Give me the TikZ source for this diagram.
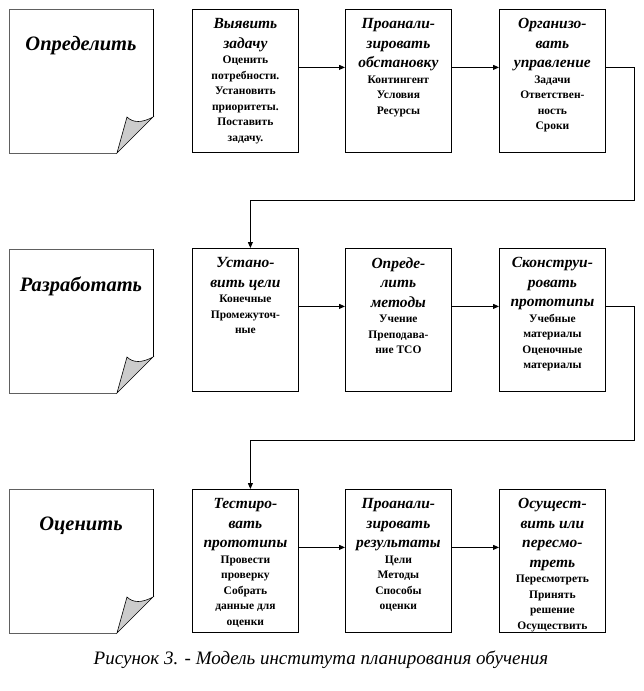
\documentclass[tikz,border=0pt]{standalone}
\usepackage{fontspec}
\setmainfont{Liberation Serif}
\usetikzlibrary{arrows.meta,calc}
\newcommand\hfnt{\fontsize{15.5}{19.5}\selectfont\bfseries\itshape}
\newcommand\bfnt{\fontsize{11.5}{15.5}\selectfont\bfseries}
\newcommand\boxnode[5]{\node[stagebox] (#1) at (#2,#3) {\parbox[t][143pt][t]{106pt}{\centering\vspace*{9pt}{\hfnt #4\par}{\bfnt #5\par}}};}
\tikzset{
  stagebox/.style={draw, line width=0.8pt, inner sep=0pt, anchor=north west},
  arr/.style={-{Triangle[length=6pt,width=5pt]}, line width=0.8pt},
  notetitle/.style={font=\fontsize{20.5}{22}\selectfont\bfseries\itshape, inner sep=0pt},
}
\begin{document}
\begin{tikzpicture}[x=1pt,y=-1pt]
\useasboundingbox (0,0) rectangle (643,691);
% notes
\foreach \yy/\tt/\nm in {9/Определить/n1, 249/Разработать/n2, 489/Оценить/n3}{
  \begin{scope}[shift={(0,\yy)}]
    \fill[white] (9,0)--(153,0)--(153,108)--(117,144)--(9,144)--cycle;
    \draw[gray!75!black, line width=1pt] (153,0)--(9,0)--(9,144)--(117,144);
    \draw[black, line width=0.8pt] (153,0)--(153,108);
    \draw[fill=gray!40, line width=0.6pt] (117,144) -- (127,108) .. controls (133,114) and (142,114) .. (153,108) -- cycle;
    \node[notetitle] (\nm) at (81,37) {\tt};
  \end{scope}
}
% row 1
\boxnode{b1}{192}{9}{Выявить\\задачу}{Оценить\\потребности.\\Установить\\приоритеты.\\Поставить\\задачу.}
\boxnode{b2}{345}{9}{Проанали-\\зировать\\обстановку}{Контингент\\Условия\\Ресурсы}
\boxnode{b3}{499}{9}{Организо-\\вать\\управление}{Задачи\\Ответствен-\\ность\\Сроки}
% row 2
\boxnode{b4}{192}{248}{Устано-\\вить цели}{Конечные\\Промежуточ-\\ные}
\boxnode{b5}{345}{248}{Опреде-\\лить\\методы}{Учение\\Преподава-\\ние ТСО}
\boxnode{b6}{499}{248}{Сконструи-\\ровать\\прототипы}{Учебные\\материалы\\Оценочные\\материалы}
% row 3
\boxnode{b7}{192}{489}{Тестиро-\\вать\\прототипы}{Провести\\проверку\\Собрать\\данные для\\оценки}
\boxnode{b8}{345}{489}{Проанали-\\зировать\\результаты}{Цели\\Методы\\Способы\\оценки}
\boxnode{b9}{499}{489}{Осущест-\\вить или\\пересмо-\\треть}{Пересмотреть\\Принять\\решение\\Осуществить}
% connectors
\coordinate (t1) at (634,200);
\coordinate (t2) at (634,440);
\draw[arr] ([yshift=13.5pt]b1.east) -- ([yshift=13.5pt]b2.west);
\draw[arr] ([yshift=13.5pt]b2.east) -- ([yshift=13.5pt]b3.west);
\draw[arr] ([yshift=13.5pt]b3.east) -| (t1) -| ([xshift=5pt]b4.north);
\draw[arr] ([yshift=13.5pt]b4.east) -- ([yshift=13.5pt]b5.west);
\draw[arr] ([yshift=13.5pt]b5.east) -- ([yshift=13.5pt]b6.west);
\draw[arr] ([yshift=13.5pt]b6.east) -| (t2) -| ([xshift=5pt]b7.north);
\draw[arr] ([yshift=13.5pt]b7.east) -- ([yshift=13.5pt]b8.west);
\draw[arr] ([yshift=13.5pt]b8.east) -- ([yshift=13.5pt]b9.west);
% caption
\node[font=\fontsize{19}{21}\selectfont\itshape, inner sep=0pt] (cap) at (321,660) {Рисунок 3. - Модель института планирования обучения};
\end{tikzpicture}
\end{document}
